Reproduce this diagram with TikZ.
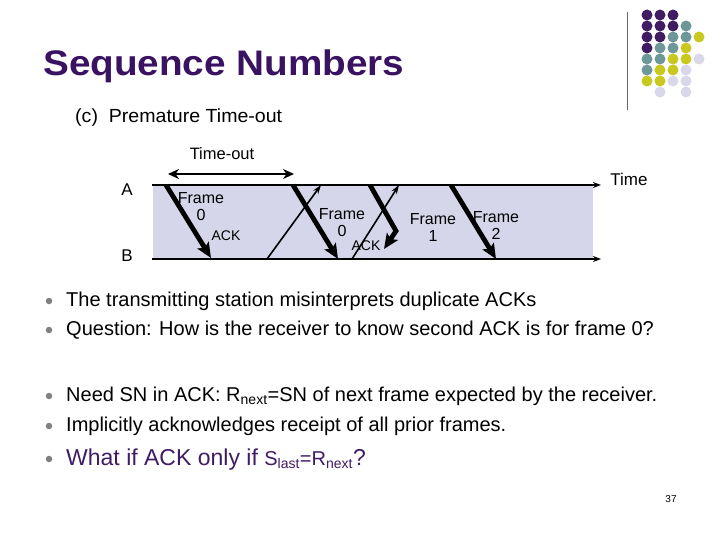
\documentclass[tikz,border=0pt]{standalone}
\usepackage{fontspec}
\setmainfont{Liberation Sans}
\usetikzlibrary{arrows.meta}
\definecolor{titlepurple}{RGB}{58,18,98}
\definecolor{band}{RGB}{214,214,234}
\definecolor{dpurple}{RGB}{64,28,98}
\definecolor{tealc}{RGB}{110,152,152}
\definecolor{olivec}{RGB}{200,200,30}
\definecolor{lavc}{RGB}{216,216,234}
\definecolor{bulletgray}{RGB}{128,128,128}
\tikzset{
  fs/.style={font=\fontsize{#1}{#1}\selectfont},
  fsb/.style={font=\fontsize{#1}{#1}\selectfont\bfseries},
  lbl/.style={inner sep=0pt, align=center},
  timeline/.style={line width=2pt, -{Stealth[length=8pt,width=6pt]}},
  framearrow/.style={line width=4.8pt, -{Stealth[length=15pt,width=13pt,inset=3pt]}},
  ackarrow/.style={line width=1.6pt, -{Stealth[length=9pt,width=6pt]}},
  dotc/.style={circle, inner sep=0pt, minimum size=11pt},
  bul/.style={circle, fill=bulletgray, inner sep=0pt, minimum size=6.5pt},
  btext/.style={anchor=base west, inner sep=0pt, fs=20}
}
\def\skipc{N}
\begin{document}
\begin{tikzpicture}[x=1pt,y=-1pt]
\useasboundingbox (0,0) rectangle (720,540);
% title
\node[anchor=base west, inner sep=0pt, fsb=35.5, text=titlepurple] (title) at (43,76) {\scalebox{1.09}[1]{Sequence Numbers}};
\node[anchor=base west, inner sep=0pt, fs=19] (sub) at (75,123) {\scalebox{1.03}[1]{(c)\ \ Premature Time-out}};
% logo
\draw[line width=0.8pt, black!60] (627,12) -- (627,110);
\foreach \r/\row in {0/{dpurple,dpurple,dpurple,N,N},1/{dpurple,dpurple,dpurple,tealc,N},2/{dpurple,dpurple,tealc,tealc,olivec},3/{dpurple,tealc,tealc,olivec,N},4/{tealc,tealc,olivec,olivec,lavc},5/{tealc,olivec,olivec,lavc,N},6/{olivec,olivec,lavc,lavc,N},7/{N,lavc,N,lavc,N}}{
  \foreach \c [count=\i from 0] in \row {
    \ifx\c\skipc\else
      \node[dotc, fill=\c] (dot\r\i) at (647+13*\i,15+11*\r) {};
    \fi
  }
}
% band
\fill[band] (153,185) rectangle (593,259);
% timelines
\coordinate (a0) at (152,185); \coordinate (a1) at (601,185);
\coordinate (b0) at (152,259); \coordinate (b1) at (601,259);
\draw[timeline] (a0) -- (a1);
\draw[timeline] (b0) -- (b1);
\node[lbl, fs=17] (A) at (127,190) {A};
\node[lbl, fs=17] (B) at (127,256) {B};
\node[lbl, fs=17] (time) at (629,179) {Time};
% time-out
\coordinate (t0) at (168,174); \coordinate (t1) at (294,174);
\draw[line width=2.8pt, {Stealth[length=11pt,width=10pt]}-{Stealth[length=11pt,width=10pt]}] (t0) -- (t1);
\node[lbl, fs=16.5] (tolbl) at (222,154) {Time-out};
% arrows
\coordinate (f0s) at (166,185); \coordinate (f0e) at (211,258);
\draw[framearrow] (f0s) -- (f0e);
\coordinate (k0s) at (267,259); \coordinate (k0e) at (321,185);
\draw[ackarrow] (k0s) -- (k0e);
\coordinate (f1s) at (293,185); \coordinate (f1e) at (338,259);
\draw[framearrow] (f1s) -- (f1e);
\coordinate (k1s) at (352,259); \coordinate (k1e) at (399,185);
\draw[ackarrow] (k1s) -- (k1e);
\coordinate (f2s) at (370,185); \coordinate (f2m) at (396,231); \coordinate (f2e) at (384,249);
\draw[framearrow, line join=miter] (f2s) -- (f2m) -- (f2e);
\coordinate (f3s) at (451,185); \coordinate (f3e) at (496,259);
\draw[framearrow] (f3s) -- (f3e);
% labels
\node[lbl, fs=16] (fr0) at (201,207) {Frame\\[1pt]0};
\node[lbl, fs=14] (ack0) at (226,236) {ACK};
\node[lbl, fs=16] (fr0b) at (342,223) {Frame\\[1pt]0};
\node[lbl, fs=14] (ack1) at (366,246) {ACK};
\node[lbl, fs=16] (fr1) at (433,227) {Frame\\[1pt]1};
\node[lbl, fs=16] (fr2) at (496,225) {Frame\\[1pt]2};
% bullets
\foreach \y [count=\k] in {301,330,396,426,459} {\node[bul] (bul\k) at (49,\y) {};}
\node[btext] (l1) at (66,306) {The transmitting station misinterprets duplicate ACKs};
\node[btext] (l2) at (66,335) {Question: How is the receiver to know second ACK is for frame 0?};
\node[btext] (l3) at (66,401) {Need SN in ACK: R\textsubscript{next}=SN of next frame expected by the receiver.};
\node[btext] (l4) at (66,431) {Implicitly acknowledges receipt of all prior frames.};
\node[btext, fs=23, text=dpurple] (l5) at (66,465) {What if ACK only if {\fontsize{20}{20}\selectfont S\textsubscript{last}=R\textsubscript{next}}?};
\node[lbl, fs=10] (pg) at (671,499) {37};
\end{tikzpicture}
\end{document}
